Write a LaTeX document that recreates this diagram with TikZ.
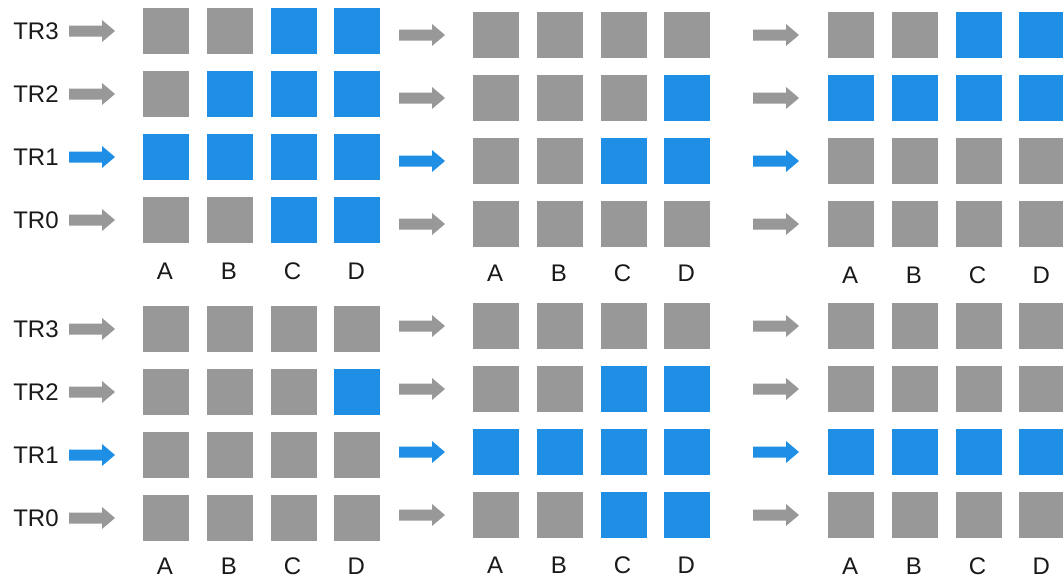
\documentclass[tikz,border=0pt]{standalone}
\usepackage{fontspec}
\setmainfont{Liberation Sans}
\definecolor{cg}{HTML}{989898}
\definecolor{cb}{HTML}{1F8FE6}
\newcommand\mypanel[6]{%
  % #1 name, #2 x of column A, #3 y of top row, #4 x of arrows, #5 y of column labels, #6 cells
  \foreach \s [count=\k from 0] in {#6} {
    \pgfmathtruncatemacro\rr{div(\k,4)}
    \pgfmathtruncatemacro\cc{mod(\k,4)}
    \pgfmathtruncatemacro\tr{3-\rr}
    \node[cell, fill=\s] (#1-\tr-\cc) at ({#2+23+63.8*\cc},{#3+23+63*\rr}) {};
  }
  \foreach \rr in {0,...,3} {
    \pgfmathtruncatemacro\tr{3-\rr}
    \pgfmathsetmacro\yc{#3+23+63*\rr}
    \ifnum\tr=1 \def\ac{cb}\else\def\ac{cg}\fi
    \fill[\ac] ({#4},{\yc-5.5}) -- ({#4+33},{\yc-5.5}) -- ({#4+33},{\yc-11})
      -- ({#4+46},{\yc}) -- ({#4+33},{\yc+11}) -- ({#4+33},{\yc+5.5})
      -- ({#4},{\yc+5.5}) -- cycle;
  }
  \foreach \L [count=\c from 0] in {A,B,C,D}
    \node[lbl] (#1-lbl-\L) at ({#2+22+63.8*\c},{#5}) {\L};
}
\newcommand\trlabels[2]{%
  \foreach \rr in {0,...,3} {
    \pgfmathtruncatemacro\tr{3-\rr}
    \node[lbl] (#1-tr-\tr) at (36,{#2+23+63*\rr}) {TR\tr};
  }
}
\begin{document}
\begin{tikzpicture}[x=1pt,y=-1pt,
  cell/.style={minimum size=46pt, inner sep=0pt, outer sep=0pt},
  lbl/.style={font=\fontsize{24}{27}\selectfont, inner sep=0pt, text=black!90}]
\useasboundingbox (0,0) rectangle (1063,579);
\clip (0,0) rectangle (1063,579);
\fill[white] (0,0) rectangle (1063,579);
% top row of panels
\mypanel{a}{143}{8}{69}{271}{cg,cg,cb,cb, cg,cb,cb,cb, cb,cb,cb,cb, cg,cg,cb,cb}
\trlabels{a}{8}
\mypanel{b}{473}{12}{399}{273}{cg,cg,cg,cg, cg,cg,cg,cb, cg,cg,cb,cb, cg,cg,cg,cg}
\mypanel{c}{828}{12}{753}{275}{cg,cg,cb,cb, cb,cb,cb,cb, cg,cg,cg,cg, cg,cg,cg,cg}
% bottom row of panels
\mypanel{d}{143}{306}{69}{566}{cg,cg,cg,cg, cg,cg,cg,cb, cg,cg,cg,cg, cg,cg,cg,cg}
\trlabels{d}{306}
\mypanel{e}{473}{303}{399}{565}{cg,cg,cg,cg, cg,cg,cb,cb, cb,cb,cb,cb, cg,cg,cb,cb}
\mypanel{f}{828}{303}{753}{566}{cg,cg,cg,cg, cg,cg,cg,cg, cb,cb,cb,cb, cg,cg,cg,cg}
\end{tikzpicture}
\end{document}
